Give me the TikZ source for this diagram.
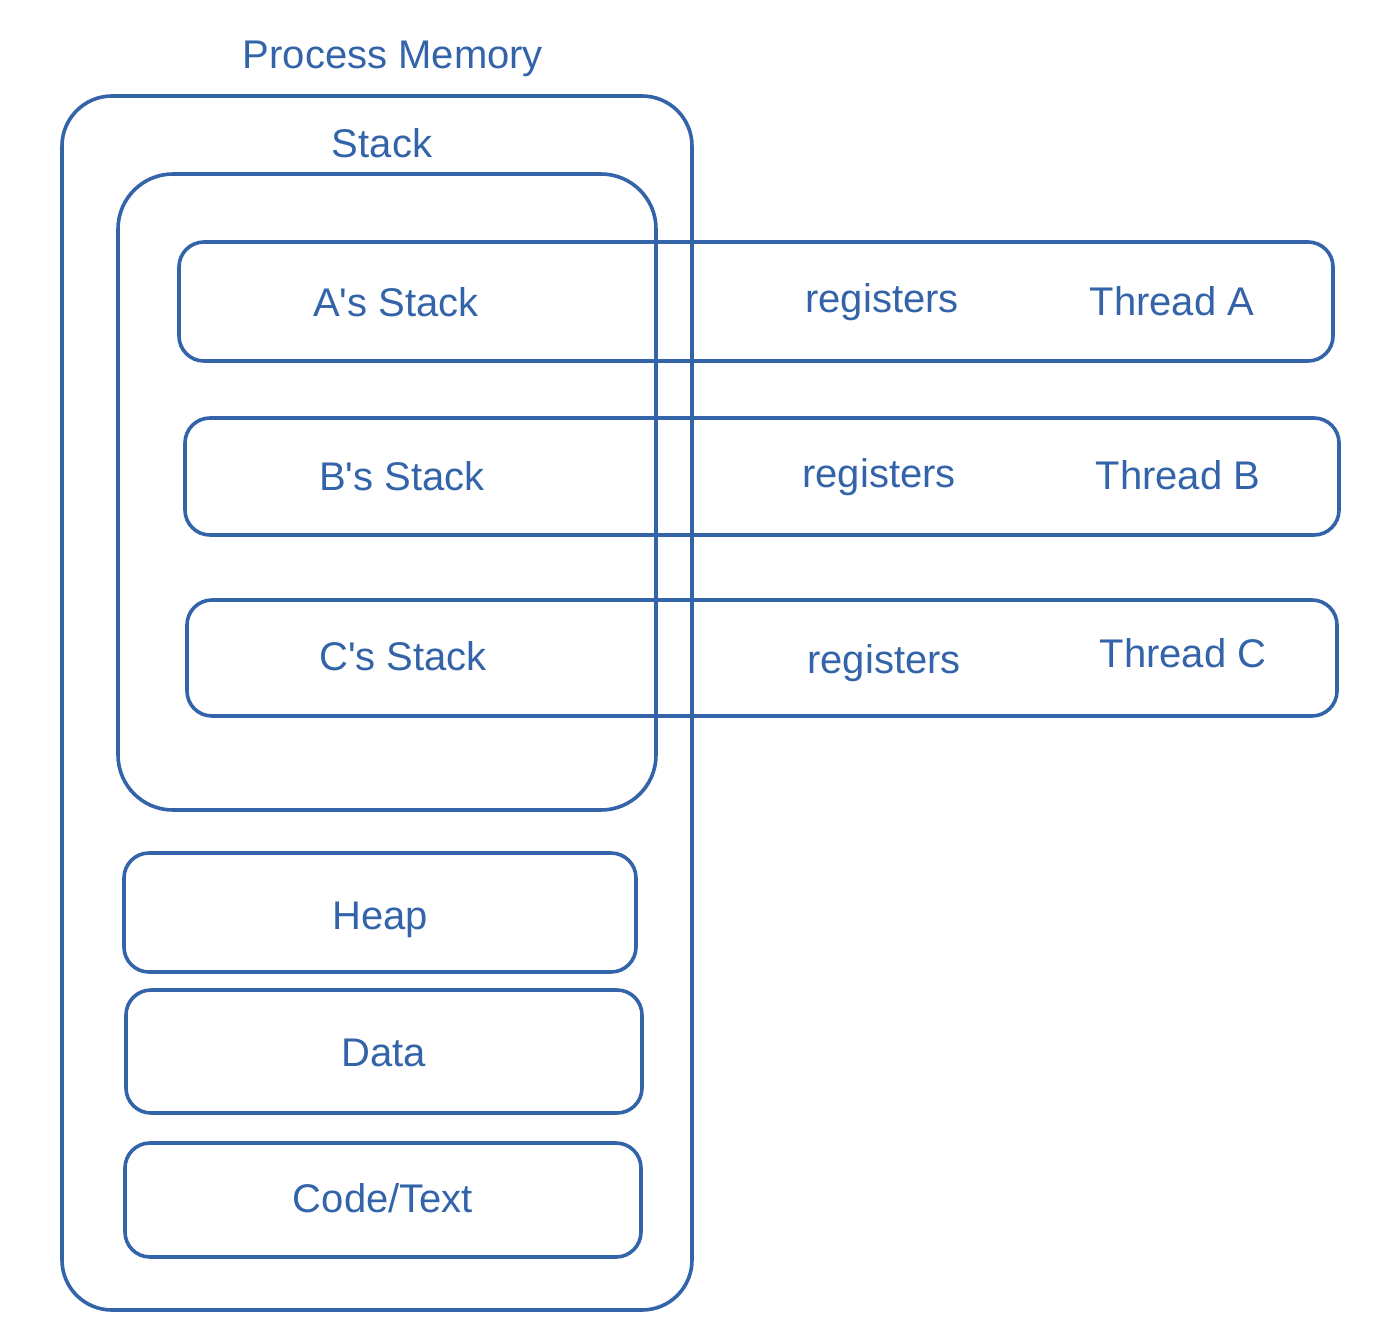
\documentclass[tikz,border=0pt]{standalone}
\usepackage{fontspec}
\setmainfont{Liberation Sans}
\definecolor{ink}{HTML}{3363A8}
\begin{document}
\begin{tikzpicture}[x=1pt,y=-1pt,
  box/.style={draw=ink,line width=3.6pt,inner sep=0pt,rounded corners=25pt},
  lbl/.style={text=ink,font=\fontsize{40}{44}\selectfont,anchor=base,inner sep=0pt}]
\useasboundingbox (0,0) rectangle (1394,1338);
% containers
\node[box,rounded corners=50pt,minimum width=630pt,minimum height=1214pt] (outer) at (377,703) {};
\node[box,rounded corners=55pt,minimum width=538pt,minimum height=636pt] (stack) at (387,492) {};
% threads
\node[box,minimum width=1154pt,minimum height=119pt] (ta) at (756,301.5) {};
\node[box,minimum width=1154pt,minimum height=117pt] (tb) at (762,476.5) {};
\node[box,minimum width=1150pt,minimum height=116pt] (tc) at (762,658) {};
% segments
\node[box,minimum width=512pt,minimum height=119pt] (heap) at (380,912.5) {};
\node[box,minimum width=516pt,minimum height=123pt] (data) at (384,1051.5) {};
\node[box,minimum width=516pt,minimum height=114pt] (code) at (383,1200) {};
% labels
\node[lbl] (lpm) at (393,68) {Process Memory};
\node[lbl] (lst) at (382,157) {Stack};
\node[lbl] (las) at (396,316) {A\textquotesingle s Stack};
\node[lbl] (lra) at (882,312) {registers};
\node[lbl] (lta) at (1172,315) {Thread A};
\node[lbl] (lbs) at (402,490) {B\textquotesingle s Stack};
\node[lbl] (lrb) at (879,487) {registers};
\node[lbl] (ltb) at (1178,489) {Thread B};
\node[lbl] (lcs) at (403,670) {C\textquotesingle s Stack};
\node[lbl] (lrc) at (884,673) {registers};
\node[lbl] (ltc) at (1183,667) {Thread C};
\node[lbl] (lhp) at (380,929) {Heap};
\node[lbl] (ldt) at (384,1066) {Data};
\node[lbl] (lcd) at (383,1212) {Code/Text};
\end{tikzpicture}
\end{document}
